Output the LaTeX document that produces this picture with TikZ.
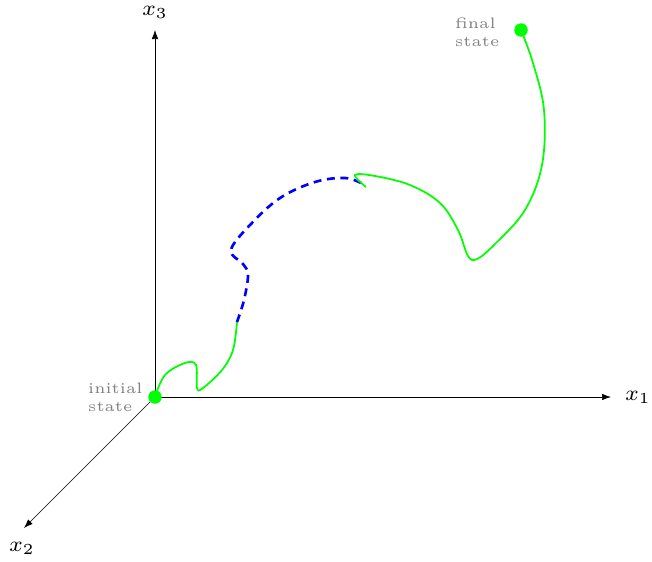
\documentclass[tikz,border=0pt]{standalone}
\usetikzlibrary{arrows.meta,positioning}

\begin{document}
\begin{tikzpicture}[
  axis/.style={-{Latex[length=1.8mm,width=1.3mm]},black},
  axislabel/.style={font=\scriptsize,scale=1.75},
  statedot/.style={circle,fill=green,minimum size=0.27cm,inner sep=0pt},
  statelabel/.style={font=\tiny,scale=1.72,text=gray,align=left,inner sep=0pt},
  pathok/.style={green,line width=1pt},
  pathgap/.style={blue,line width=1.5pt,dash pattern=on 4.5pt off 3.2pt}
]
  \useasboundingbox (-3.1,-3.28) rectangle (9.94,7.94);
  % Axes
  \coordinate (O) at (0,0);
  \coordinate (x1end) at (9.12,0);
  \coordinate (x2end) at (-2.62,-2.62);
  \coordinate (x3end) at (0,7.34);
  \draw[axis] (O) -- (x1end);
  \draw[axis] (O) -- (x2end);
  \draw[axis] (O) -- (x3end);
  \node[axislabel] (x1lab) at (9.66,0) {$x_1$};
  \node[axislabel] (x2lab) at (-2.66,-3.02) {$x_2$};
  \node[axislabel] (x3lab) at (0,7.7) {$x_3$};
  % Trajectory
  \draw[pathok] plot[smooth,tension=0.6] coordinates {(0,0) (0.2,0.44) (0.6,0.68)
    (0.82,0.64) (0.84,0.18) (0.96,0.18) (1.34,0.54) (1.56,0.94) (1.64,1.5)};
  \draw[pathgap] plot[smooth,tension=0.6] coordinates {(1.64,1.5) (1.78,1.94)
    (1.86,2.44) (1.76,2.66) (1.52,2.94) (1.9,3.44) (2.5,3.98) (3.2,4.3)
    (3.8,4.38) (4.16,4.26)};
  \draw[pathok] plot[smooth,tension=0.6] coordinates {(4.22,4.2) (4.0,4.44)
    (4.4,4.42) (5.1,4.24) (5.7,3.88) (6.06,3.34) (6.26,2.82) (6.44,2.76)
    (6.8,3.06) (7.4,3.74) (7.74,4.64) (7.78,5.74) (7.56,6.68) (7.32,7.34)};
  % States
  \node[statedot] (init) at (O) {};
  \node[statedot] (final) at (7.32,7.34) {};
  \node[statelabel,anchor=east] (initlab) at (-0.24,0) {initial\\state};
  \node[statelabel,anchor=east] (finallab) at (6.9,7.3) {final\\state};
\end{tikzpicture}
\end{document}
